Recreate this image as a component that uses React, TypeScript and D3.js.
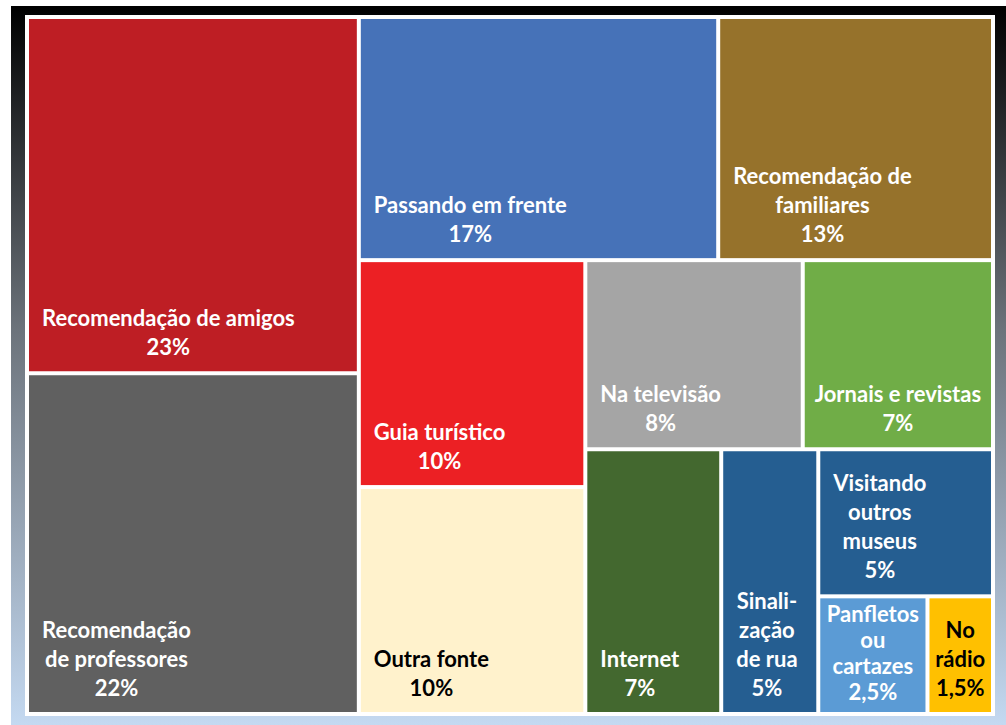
import React, { useEffect, useRef } from "react";
import * as d3 from "d3";

// Como os visitantes souberam do museu
const names = [
  "Recomendação de amigos",
  "Recomendação\nde professores",
  "Passando em frente",
  "Recomendação de\nfamiliares",
  "Guia turístico",
  "Outra fonte",
  "Na televisão",
  "Jornais e revistas",
  "Internet",
  "Sinali-\nzação\nde rua",
  "Visitando\noutros\nmuseus",
  "Panfletos\nou\ncartazes",
  "No\nrádio",
];
const values = [23, 22, 17, 13, 10, 10, 8, 7, 7, 5, 5, 2.5, 1.5];
// nesting of the blocks (how the treemap is cut)
const groups = [
  "a",
  "a",
  "b/top",
  "b/top",
  "b/bot/c",
  "b/bot/c",
  "b/bot/r/t",
  "b/bot/r/t",
  "b/bot/r/b",
  "b/bot/r/b",
  "b/bot/r/b/g",
  "b/bot/r/b/g/p",
  "b/bot/r/b/g/p",
];
const colors = [
  "#be1e24",
  "#606060",
  "#4672b8",
  "#96722b",
  "#ec2024",
  "#fff2cc",
  "#a5a5a5",
  "#70ad47",
  "#43682f",
  "#255e91",
  "#255e91",
  "#5b9bd5",
  "#ffc000",
];
const darkText = ["Outra fonte", "No\nrádio"];

type Node = { name: string; value?: number; idx?: number; children?: Node[] };

function buildTree(): Node {
  const root: Node = { name: "root", children: [] };
  names.forEach((n, i) => {
    let cur = root;
    groups[i].split("/").forEach((g) => {
      let next = cur.children!.find((c) => c.name === g && c.children);
      if (!next) {
        next = { name: g, children: [] };
        cur.children!.push(next);
      }
      cur = next;
    });
    cur.children!.push({ name: n, value: values[i], idx: i });
  });
  return root;
}

const W = 1006;
const H = 725;

export default function App() {
  const svgRef = useRef<SVGSVGElement>(null);

  useEffect(() => {
    const svg = d3.select(svgRef.current);
    svg.selectAll("*").remove();

    const defs = svg.append("defs");
    const grad = defs
      .append("linearGradient")
      .attr("id", "bg")
      .attr("x1", 0)
      .attr("y1", 0)
      .attr("x2", 0)
      .attr("y2", 1);
    grad.append("stop").attr("offset", "0%").attr("stop-color", "#000000");
    grad.append("stop").attr("offset", "45%").attr("stop-color", "#6c737b");
    grad.append("stop").attr("offset", "100%").attr("stop-color", "#c4d9f1");

    svg.append("rect").attr("x", 0).attr("y", 0).attr("width", W).attr("height", H).attr("fill", "#fff");
    svg.append("rect").attr("x", 11).attr("y", 6).attr("width", W - 11).attr("height", H - 6).attr("fill", "url(#bg)");
    svg.append("rect").attr("x", 25).attr("y", 15).attr("width", 970).attr("height", 701).attr("fill", "#fff");

    const root = d3
      .hierarchy<Node>(buildTree())
      .sum((d) => (d.children ? 0 : d.value || 0));

    d3
      .treemap<Node>()
      .tile(d3.treemapSliceDice)
      .size([962, 693])
      .paddingInner(4)(root);

    const g = svg.append("g").attr("transform", "translate(29,19)");

    const leaf = g
      .selectAll("g.leaf")
      .data(root.leaves() as d3.HierarchyRectangularNode<Node>[])
      .join("g")
      .attr("class", "leaf");

    leaf
      .append("rect")
      .attr("x", (d) => d.x0)
      .attr("y", (d) => d.y0)
      .attr("width", (d) => d.x1 - d.x0)
      .attr("height", (d) => d.y1 - d.y0)
      .attr("fill", (d) => colors[d.data.idx!]);

    leaf.each(function (d) {
      const lines = [...d.data.name.split("\n"), String(d.data.value).replace(".", ",") + "%"];
      const w = d.x1 - d.x0;
      const h = d.y1 - d.y0;
      const lh = Math.min(29, (h - 10) / lines.length);
      const bottom = lh < 29 ? 20 : 24;
      const text = d3
        .select(this)
        .append("text")
        .attr("fill", darkText.includes(d.data.name) ? "#000" : "#fff")
        .style("font-family", "Lato, 'Open Sans', sans-serif")
        .style("font-weight", "bold")
        .style("font-size", "22px")
        .attr("text-anchor", "middle");
      const spans = lines.map((l, i) =>
        text
          .append("tspan")
          .attr("y", d.y1 - bottom - (lines.length - 1 - i) * lh)
          .attr("dy", "0.35em")
          .text(l)
      );
      const bw = d3.max(spans, (s) => (s.node() as SVGTSpanElement).getComputedTextLength()) || 0;
      const pad = Math.min(13, Math.max(0, (w - bw) / 2));
      spans.forEach((s) => s.attr("x", d.x0 + pad + bw / 2));
    });
  }, []);

  return (
    <svg
      ref={svgRef}
      width={W}
      height={H}
      style={{ position: "absolute", left: 0, top: 0, display: "block" }}
    />
  );
}
